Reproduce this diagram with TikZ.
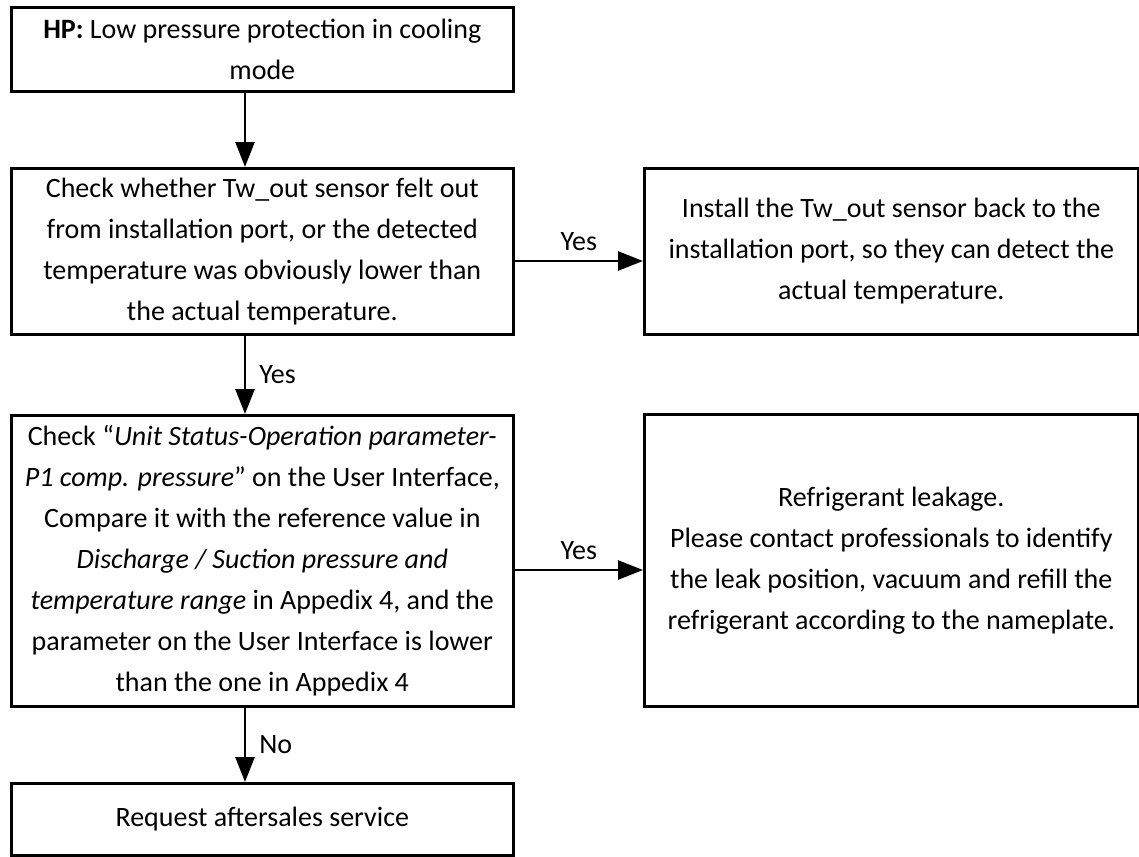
\documentclass[tikz,border=0pt]{standalone}
\usepackage{fontspec}
\setmainfont{Carlito}
\usetikzlibrary{arrows.meta}
\begin{document}
\begin{tikzpicture}[x=1pt,y=-1pt,
  box/.style={draw, line width=2.6pt, anchor=north west, inner sep=0pt, align=center,
              font=\fontsize{28}{41}\selectfont},
  arr/.style={line width=2.6pt, -{Triangle[length=25pt,width=19pt]}},
  lbl/.style={inner sep=0pt, font=\fontsize{28}{34}\selectfont}]
\useasboundingbox (0,0) rectangle (1139,856);

\node[box, minimum width=502pt, minimum height=84pt] (b1) at (10,6)
  {\textbf{HP:} Low pressure protection in cooling\\mode};
\node[box, minimum width=502pt, minimum height=166pt] (b2) at (10,167)
  {Check whether Tw\_out sensor felt out\\from installation port, or the detected\\temperature was obviously lower than\\the actual temperature.};
\node[box, minimum width=494pt, minimum height=166pt] (b3) at (643,167)
  {Install the Tw\_out sensor back to the\\installation port, so they can detect the\\actual temperature.};
\node[box, minimum width=502pt, minimum height=291pt] (b4) at (10,414)
  {Check “\textit{Unit Status-Operation parameter-}\\\textit{P1 comp. pressure}” on the User Interface,\\Compare it with the reference value in\\\textit{Discharge / Suction pressure and}\\\textit{temperature range} in Appedix 4, and the\\parameter on the User Interface is lower\\than the one in Appedix 4};
\node[box, minimum width=494pt, minimum height=292pt] (b5) at (643,413)
  {Refrigerant leakage.\\Please contact professionals to identify\\the leak position, vacuum and refill the\\refrigerant according to the nameplate.};
\node[box, minimum width=502pt, minimum height=72pt] (b6) at (10,782)
  {Request aftersales service};

\coordinate (ax) at (245,0);
\coordinate (ay1) at (0,261);
\coordinate (ay2) at (0,570);

\draw[arr] (b1.south -| ax) -- (b2.north -| ax);
\draw[arr] (b2.east |- ay1) -- node[lbl, above=9pt] (y1) {Yes} (b3.west |- ay1);
\draw[arr] (b2.south -| ax) -- node[lbl, right=13pt] (y2) {Yes} (b4.north -| ax);
\draw[arr] (b4.east |- ay2) -- node[lbl, above=9pt] (y3) {Yes} (b5.west |- ay2);
\draw[arr] (b4.south -| ax) -- node[lbl, right=13pt] (n1) {No} (b6.north -| ax);
\end{tikzpicture}
\end{document}
